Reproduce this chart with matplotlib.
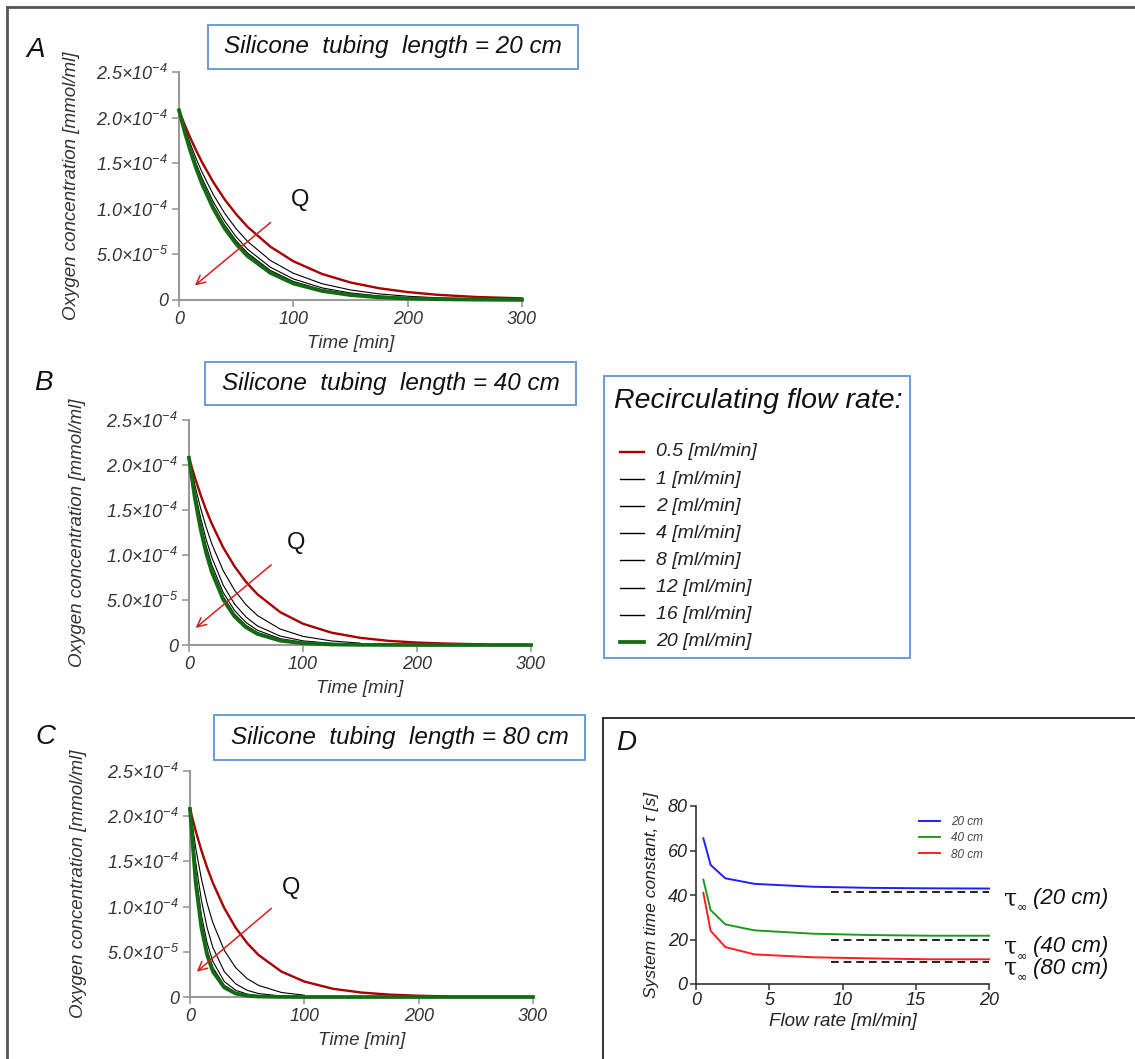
import numpy as np
import matplotlib
matplotlib.use('Agg')
import matplotlib.pyplot as plt
from matplotlib.patches import Rectangle
from matplotlib.lines import Line2D

# Arial-like italic text everywhere
plt.rcParams['font.family'] = ['Liberation Sans', 'DejaVu Sans']
plt.rcParams['font.style'] = 'italic'
plt.rcParams['mathtext.fontset'] = 'custom'
plt.rcParams['mathtext.rm'] = 'Liberation Sans:italic'
plt.rcParams['mathtext.it'] = 'Liberation Sans:italic'

nan = np.nan

# ---------------- data ----------------
time_min = [0, 5, 10, 15, 20, 30, 40, 50, 60, 80, 100, 125, 150, 175, 200, 225, 260, 300]
flow_rates = [0.5, 1, 2, 4, 8, 12, 16, 20]
flow_labels = ['0.5 [ml/min]', '1 [ml/min]', '2 [ml/min]', '4 [ml/min]',
               '8 [ml/min]', '12 [ml/min]', '16 [ml/min]', '20 [ml/min]']
conc_unit = 1e-5  # concentrations below are in 1e-5 mmol/ml

# 20 cm tubing, one row per flow rate
conc_20cm = [
    [20.8, 19.21, 17.75, 16.39, 15.14, 12.92, 11.02, 9.41, 8.02, 5.84, 4.25, 2.86, 1.92, 1.29, 0.87, 0.58, 0.33, 0.18],
    [20.8, 18.86, 17.10, 15.50, 14.05, 11.55, 9.50, 7.81, 6.42, 4.33, 2.93, 1.79, 1.10, 0.67, 0.41, 0.25, 0.13, 0.06],
    [20.8, 18.63, 16.70, 14.96, 13.40, 10.76, 8.64, 6.93, 5.56, 3.59, 2.31, 1.33, 0.77, 0.45, 0.26, 0.15, 0.07, 0.03],
    [20.8, 18.52, 16.48, 14.67, 13.06, 10.35, 8.21, 6.50, 5.15, 3.24, 2.03, 1.14, 0.64, 0.36, 0.20, 0.11, 0.05, 0.02],
    [20.8, 18.47, 16.39, 14.55, 12.92, 10.18, 8.02, 6.33, 4.99, 3.10, 1.92, 1.06, 0.58, 0.32, 0.18, 0.10, 0.04, 0.02],
    [20.8, 18.44, 16.35, 14.49, 12.85, 10.10, 7.93, 6.24, 4.90, 3.03, 1.87, 1.02, 0.56, 0.31, 0.17, 0.09, 0.04, 0.02],
    [20.8, 18.42, 16.32, 14.45, 12.80, 10.04, 7.88, 6.18, 4.85, 2.98, 1.84, 1.00, 0.55, 0.30, 0.16, 0.09, 0.04, 0.01],
    [20.8, 18.41, 16.30, 14.43, 12.77, 10.01, 7.84, 6.14, 4.81, 2.96, 1.81, 0.99, 0.54, 0.29, 0.16, 0.09, 0.04, 0.01],
]

# 40 cm tubing
conc_40cm = [
    [20.8, 18.66, 16.74, 15.01, 13.47, 10.83, 8.72, 7.01, 5.64, 3.65, 2.36, 1.37, 0.80, 0.46, 0.27, 0.16, 0.07, nan],
    [20.8, 17.83, 15.29, 13.11, 11.24, 8.26, 6.08, 4.47, 3.28, 1.77, 0.96, 0.45, 0.21, nan, nan, nan, nan, nan],
    [20.8, 17.20, 14.22, 11.76, 9.72, 6.65, 4.54, 3.11, 2.12, 0.99, 0.46, 0.18, 0.07, nan, nan, nan, nan, nan],
    [20.8, 16.83, 13.62, 11.02, 8.91, 5.83, 3.82, 2.50, 1.64, 0.70, 0.30, 0.10, 0.04, nan, nan, nan, nan, nan],
    [20.8, 16.61, 13.26, 10.58, 8.45, 5.39, 3.43, 2.19, 1.39, 0.57, 0.23, 0.07, 0.02, nan, nan, nan, nan, nan],
    [20.8, 16.50, 13.09, 10.39, 8.24, 5.19, 3.26, 2.06, 1.29, 0.51, 0.20, 0.06, 0.02, nan, nan, nan, nan, nan],
    [20.8, 16.45, 13.01, 10.29, 8.13, 5.09, 3.18, 1.99, 1.24, 0.49, 0.19, 0.06, 0.02, nan, nan, nan, nan, nan],
    [20.8, 16.43, 12.98, 10.25, 8.10, 5.05, 3.15, 1.97, 1.23, 0.48, 0.19, 0.06, 0.02, 0.01, 0.0, 0.0, 0.0, 0.0],
]

# 80 cm tubing
conc_80cm = [
    [20.8, 18.36, 16.20, 14.30, 12.62, 9.83, 7.65, 5.96, 4.64, 2.81, 1.71, 0.91, 0.49, 0.26, 0.14, 0.07, nan, nan],
    [20.8, 16.48, 13.06, 10.35, 8.21, 5.15, 3.24, 2.03, 1.28, 0.50, 0.20, nan, nan, nan, nan, nan, nan, nan],
    [20.8, 14.90, 10.68, 7.65, 5.48, 2.81, 1.45, 0.74, 0.38, 0.10, 0.03, nan, nan, nan, nan, nan, nan, nan],
    [20.8, 13.71, 9.04, 5.96, 3.93, 1.71, 0.74, 0.32, 0.14, 0.03, 0.0, nan, nan, nan, nan, nan, nan, nan],
    [20.8, 13.09, 8.24, 5.19, 3.26, 1.29, 0.51, 0.20, 0.08, 0.01, 0.0, nan, nan, nan, nan, nan, nan, nan],
    [20.8, 12.86, 7.95, 4.92, 3.04, 1.16, 0.45, 0.17, 0.06, 0.01, 0.0, nan, nan, nan, nan, nan, nan, nan],
    [20.8, 12.74, 7.80, 4.78, 2.93, 1.10, 0.41, 0.15, 0.06, 0.01, 0.0, nan, nan, nan, nan, nan, nan, nan],
    [20.8, 12.62, 7.65, 4.64, 2.81, 1.04, 0.38, 0.14, 0.05, 0.01, 0.0, 0.0, 0.0, 0.0, 0.0, 0.0, 0.0, 0.0],
]

# panel D: time constants vs flow rate
flow_D = [0.5, 1, 2, 4, 8, 12, 16, 20]
tau_20cm = [65.5, 53.5, 47.5, 45.0, 43.7, 43.2, 43.0, 42.9]
tau_40cm = [46.9, 33.2, 26.8, 24.1, 22.6, 22.0, 21.7, 21.7]
tau_80cm = [41.0, 23.9, 16.6, 13.3, 12.0, 11.5, 11.1, 11.1]
tau_inf = [41.4, 19.7, 10.0]
tau_inf_labels = ['(20 cm)', '(40 cm)', '(80 cm)']
tau_inf_from = 9.2

yticks_conc = [0, 5e-5, 1e-4, 1.5e-4, 2e-4, 2.5e-4]
ytick_labels_conc = ['0', '5.0×10$^{-5}$', '1.0×10$^{-4}$', '1.5×10$^{-4}$',
                     '2.0×10$^{-4}$', '2.5×10$^{-4}$']

# ---------------- styles ----------------
line_colors = ['#a80000'] + ['black'] * 6 + ['#136b13']
line_widths = [1.7] + [0.8] * 6 + [2.7]
box_blue = '#6b9bd6'

W, H = 1135, 1059
fig = plt.figure(figsize=(W / 100, H / 100), dpi=100)


def add_axes_px(x0, x1, y_top, y_bot):
    return fig.add_axes([x0 / W, 1 - y_bot / H, (x1 - x0) / W, (y_bot - y_top) / H])


def conc_panel(ax, conc, q_pos, arrow_start, arrow_end, ylab_x):
    t = np.array(time_min)
    for i in range(len(flow_rates)):
        ax.plot(t, np.array(conc[i]) * conc_unit, color=line_colors[i],
                lw=line_widths[i], clip_on=False, zorder=3 + (i == 7),
                solid_joinstyle='round')
    ax.set_xlim(0, 300)
    ax.set_ylim(0, 2.5e-4)
    ax.set_xticks([0, 100, 200, 300])
    ax.set_yticks(yticks_conc)
    ax.set_yticklabels(ytick_labels_conc)
    for s in ['top', 'right']:
        ax.spines[s].set_visible(False)
    for s in ['left', 'bottom']:
        ax.spines[s].set_color('#9a9a9a')
        ax.spines[s].set_linewidth(1.5)
    ax.tick_params(direction='out', length=5, width=1.2, color='#9a9a9a',
                   labelsize=13, labelcolor='#333333', pad=3)
    ax.set_xlabel('Time [min]', fontsize=13.5, color='#333333', labelpad=5)
    ax.set_ylabel('Oxygen concentration [mmol/ml]', fontsize=13.5, color='#333333')
    ax.yaxis.set_label_coords(ylab_x, 0.5)
    ax.annotate('', xy=arrow_end, xytext=arrow_start,
                arrowprops=dict(arrowstyle='->', color='#d42020', lw=1.1,
                                mutation_scale=16), zorder=6)
    ax.text(q_pos[0], q_pos[1], 'Q', fontsize=17, style='normal',
            ha='center', va='center', color='#111111')


axA = add_axes_px(179, 522, 72, 300)
conc_panel(axA, conc_20cm, (106, 1.10e-4), (82, 8.7e-5), (12, 1.4e-5), -0.29)
axB = add_axes_px(189, 531, 420, 645)
conc_panel(axB, conc_40cm, (94, 1.13e-4), (74, 9.1e-5), (4, 1.7e-5), -0.30)
axC = add_axes_px(190, 533, 771, 997)
conc_panel(axC, conc_80cm, (88, 1.21e-4), (73, 1.0e-4), (4, 2.6e-5), -0.30)

# ---------------- panel D ----------------
axD = add_axes_px(696, 989, 806, 984)
axD.plot(flow_D, tau_20cm, color='#1f1fff', lw=1.4, label='20 cm', clip_on=False)
axD.plot(flow_D, tau_40cm, color='#1f9a1f', lw=1.4, label='40 cm', clip_on=False)
axD.plot(flow_D, tau_80cm, color='#ff1f1f', lw=1.4, label='80 cm', clip_on=False)
for v in tau_inf:
    axD.plot([tau_inf_from, 20], [v, v], color='#222222', lw=1.4, ls=(0, (4, 2.5)))

# tau_inf labels: upright serif tau, small infinity subscript, italic sans text
tau_label_y = [38.4, 16.7, 7.0]
for y, lab in zip(tau_label_y, tau_inf_labels):
    axD.text(21.0, y, 'τ', fontsize=17, family='DejaVu Serif', style='normal',
             ha='left', va='center', color='#111111', clip_on=False)
    axD.annotate('∞', xy=(21.0, y), xytext=(9, -6), textcoords='offset points',
                 fontsize=9, family='DejaVu Sans', style='normal', ha='left',
                 va='center', color='#111111', annotation_clip=False)
    axD.annotate(lab, xy=(21.0, y), xytext=(21, 0), textcoords='offset points',
                 fontsize=16, ha='left', va='center', color='#111111',
                 annotation_clip=False)
axD.set_xlim(0, 20)
axD.set_ylim(0, 80)
axD.set_xticks([0, 5, 10, 15, 20])
axD.set_yticks([0, 20, 40, 60, 80])
for s in ['top', 'right']:
    axD.spines[s].set_visible(False)
for s in ['left', 'bottom']:
    axD.spines[s].set_color('#333333')
    axD.spines[s].set_linewidth(1.2)
axD.tick_params(direction='out', length=4, width=1.1, color='#333333',
                labelsize=13, labelcolor='#222222', pad=2)
axD.set_xlabel('Flow rate [ml/min]', fontsize=13.5, color='#222222')
axD.xaxis.set_label_coords(0.5, -0.165)
axD.set_ylabel('System time constant, τ [s]', fontsize=12.5, color='#222222')
axD.yaxis.set_label_coords(-0.125, 0.5)
leg = axD.legend(loc='upper left', bbox_to_anchor=(0.74, 0.975), fontsize=8.5,
                 frameon=False, handlelength=1.8, handletextpad=0.9,
                 labelspacing=0.35, borderpad=0)
for txt in leg.get_texts():
    txt.set_color('#444444')

# ---------------- titles, boxes, legend, frame ----------------
titles = ['Silicone  tubing  length = 20 cm', 'Silicone  tubing  length = 40 cm',
          'Silicone  tubing  length = 80 cm']
title_boxes = [(208, 578, 25, 69), (205, 576, 362, 405), (214, 585, 715, 760)]
for txt, (x0, x1, y0, y1) in zip(titles, title_boxes):
    fig.add_artist(Rectangle((x0 / W, 1 - y1 / H), (x1 - x0) / W, (y1 - y0) / H,
                             transform=fig.transFigure, fill=False,
                             edgecolor=box_blue, lw=1.4))
    fig.text((x0 + x1) / 2 / W, 1 - (y0 + y1) / 2 / H, txt, fontsize=17.5,
             ha='center', va='center', color='#111111')

for letter, (px, py) in zip('ABCD', [(36, 50), (43, 383), (45, 737), (626, 743)]):
    fig.text(px / W, 1 - py / H, letter, fontsize=20, ha='center', va='center',
             color='#111111')

# flow-rate legend box
fig.add_artist(Rectangle((604 / W, 1 - 658 / H), 306 / W, 282 / H,
                         transform=fig.transFigure, fill=False,
                         edgecolor=box_blue, lw=1.4))
fig.text(614 / W, 1 - 401 / H, 'Recirculating flow rate:', fontsize=20.5,
         ha='left', va='center', color='#111111')
for i, lab in enumerate(flow_labels):
    yy = 1 - (452 + 27.1 * i) / H
    fig.add_artist(Line2D([620 / W, 644 / W], [yy, yy], transform=fig.transFigure,
                          color=line_colors[i], lw=max(line_widths[i], 1.0)))
    fig.text(656 / W, yy, lab, fontsize=14, ha='left', va='center', color='#222222')

# outer frame and panel D frame
fig.add_artist(Line2D([7 / W, 7 / W], [0, 1 - 7 / H], transform=fig.transFigure,
                      color='#555555', lw=2))
fig.add_artist(Line2D([7 / W, 1], [1 - 7 / H, 1 - 7 / H], transform=fig.transFigure,
                      color='#555555', lw=2))
fig.add_artist(Line2D([603 / W, 603 / W], [0, 1 - 718 / H], transform=fig.transFigure,
                      color='#222222', lw=1.3))
fig.add_artist(Line2D([603 / W, 1], [1 - 718 / H, 1 - 718 / H], transform=fig.transFigure,
                      color='#222222', lw=1.3))

fig.savefig('out.png', dpi=100)
